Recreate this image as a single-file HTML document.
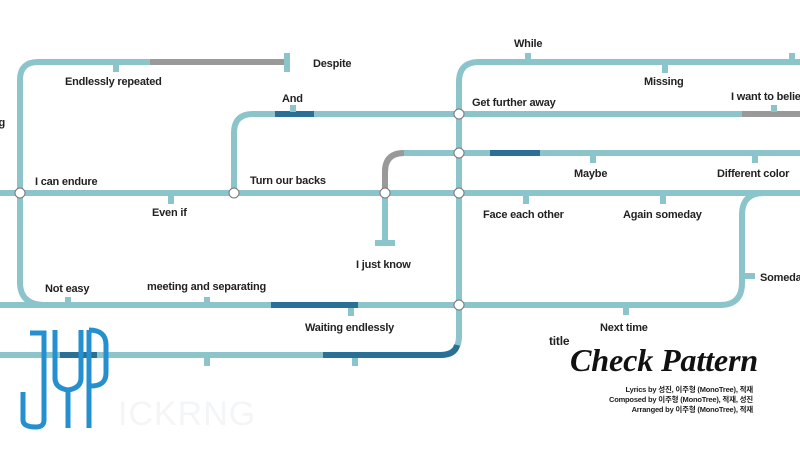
<!DOCTYPE html>
<html><head><meta charset="utf-8"><style>
html,body{margin:0;padding:0;background:#fff;width:800px;height:450px;overflow:hidden}
text{font-family:"Liberation Sans","Noto Sans CJK KR",sans-serif;font-weight:bold;font-size:11px;fill:#222;letter-spacing:-0.2px}
</style></head><body>
<svg width="800" height="450" viewBox="0 0 800 450" xmlns="http://www.w3.org/2000/svg">
<g fill="none" stroke="#8cc4cc" stroke-width="6">
<path d="M150 62 H38 Q20 62 20 80 V282 Q20 305 45 305"/>
<path d="M0 305 H720 Q742 305 742 283 V215 Q742 193 764 193 H800"/>
<path d="M0 193 H800"/>
<path d="M234 193 V133 Q234 114 253 114 H800"/>
<path d="M385 240 V172 Q385 153 404 153 H800"/>
<path d="M0 355 H440 Q459 355 459 336 V82 Q459 62 479 62 H800"/>
</g>
<g fill="none" stroke-width="6">
<path d="M150 62 H287" stroke="#999"/>
<path d="M385 190 V172 Q385 153 404 153" stroke="#999"/>
<path d="M742 114 H800" stroke="#999"/>
<path d="M275 114 H314" stroke="#2a6f96"/>
<path d="M490 153 H540" stroke="#2a6f96"/>
<path d="M271 305 H358" stroke="#2a6f96"/>
<path d="M323 355 H440 Q455 355 457 345" stroke="#2a6f96"/>
<path d="M60 355 H97" stroke="#2a6f96"/>
</g>
<g fill="#8cc4cc">
<rect x="284" y="53" width="6" height="19"/>
<rect x="375" y="240" width="20" height="6"/>
<rect x="113" y="65" width="6" height="7"/>
<rect x="290" y="105" width="6" height="7"/>
<rect x="168" y="196" width="6" height="8"/>
<rect x="65" y="297" width="6" height="7"/>
<rect x="204" y="297" width="6" height="7"/>
<rect x="348" y="308" width="6" height="8"/>
<rect x="525" y="53" width="6" height="7"/>
<rect x="662" y="65" width="6" height="8"/>
<rect x="789" y="53" width="6" height="7"/>
<rect x="771" y="105" width="6" height="7"/>
<rect x="590" y="156" width="6" height="7"/>
<rect x="752" y="156" width="6" height="7"/>
<rect x="523" y="196" width="6" height="8"/>
<rect x="660" y="196" width="6" height="8"/>
<rect x="745" y="273" width="10" height="6"/>
<rect x="623" y="308" width="6" height="7"/>
<rect x="204" y="358" width="6" height="8"/>
<rect x="352" y="358" width="6" height="8"/>
</g>
<g fill="#fff" stroke="#777" stroke-width="1">
<circle cx="20" cy="193" r="5"/><circle cx="234" cy="193" r="5"/><circle cx="385" cy="193" r="5"/>
<circle cx="459" cy="114" r="5"/><circle cx="459" cy="153" r="5"/><circle cx="459" cy="193" r="5"/><circle cx="459" cy="305" r="5"/>
</g>
<text x="313" y="67">Despite</text>
<text x="65" y="85">Endlessly repeated</text>
<text x="-8" y="126">ng</text>
<text x="282" y="102">And</text>
<text x="35" y="185">I can endure</text>
<text x="250" y="184">Turn our backs</text>
<text x="152" y="216">Even if</text>
<text x="356" y="268">I just know</text>
<text x="45" y="292">Not easy</text>
<text x="147" y="290">meeting and separating</text>
<text x="305" y="331">Waiting endlessly</text>
<text x="514" y="47">While</text>
<text x="644" y="85">Missing</text>
<text x="472" y="106">Get further away</text>
<text x="731" y="100">I want to believe</text>
<text x="574" y="177">Maybe</text>
<text x="717" y="177">Different color</text>
<text x="483" y="218">Face each other</text>
<text x="623" y="218">Again someday</text>
<text x="760" y="281">Someday</text>
<text x="600" y="331">Next time</text>
<text x="549" y="345" style="font-size:12px">title</text>
<text x="570" y="371" textLength="188" lengthAdjust="spacingAndGlyphs" style="font-family:'Liberation Serif',serif;font-style:italic;font-weight:bold;font-size:32px;fill:#111">Check Pattern</text>
<text x="753" y="392" text-anchor="end" style="font-size:7.5px">Lyrics by 성진, 이주형 (MonoTree), 적재</text>
<text x="753" y="402" text-anchor="end" style="font-size:7.5px">Composed by 이주형 (MonoTree), 적재, 성진</text>
<text x="753" y="412" text-anchor="end" style="font-size:7.5px">Arranged by 이주형 (MonoTree), 적재</text>
<g fill="none" stroke="#2490cf" stroke-width="5">
<path d="M30 333 H44 V420 Q44 427 36 427 Q23 427 23 420 V392"/>
<path d="M55 330 V378 Q55 388 68 390 Q81 388 81 378 V330"/>
<path d="M68 390 V428"/>
<path d="M89 330 V428 M89 330 Q106 330 106 345 V373 Q106 386 91 386"/>
</g>
<text x="118" y="425" style="font-size:34px;font-weight:normal;fill:#f3f5f7;letter-spacing:1px">ICKRNG</text>
</svg>
</body></html>
